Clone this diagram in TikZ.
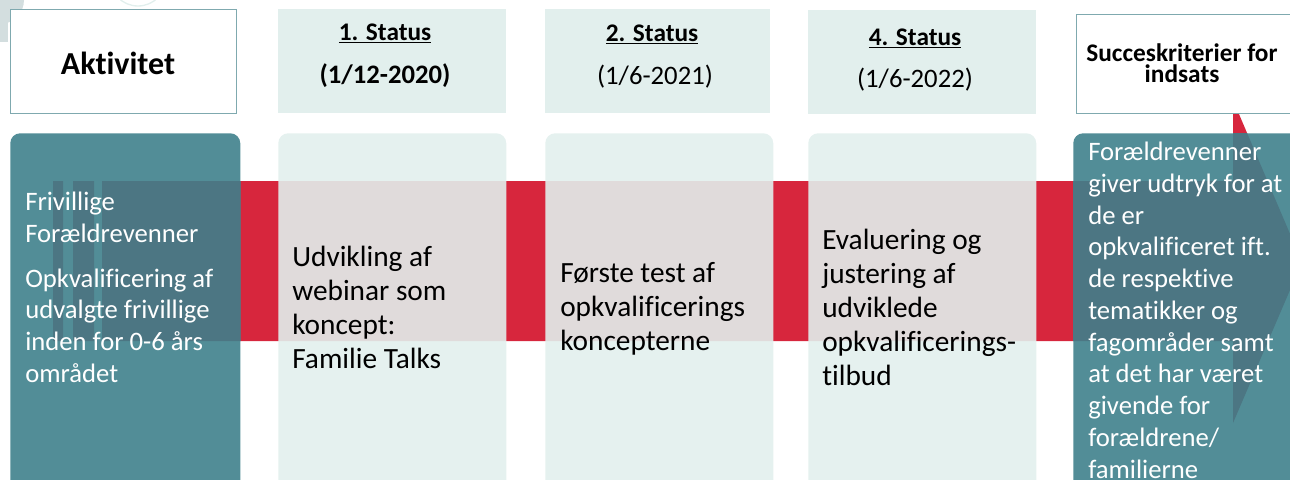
\documentclass[tikz,border=0pt]{standalone}
\usepackage{fontspec}
\setmainfont{Carlito}[Ligatures=NoCommon]
\usetikzlibrary{positioning}

\definecolor{headfill}{HTML}{E2EFED}
\definecolor{framecol}{HTML}{7FA9AF}
\definecolor{arrowred}{HTML}{D7263D}
\definecolor{tealbox}{HTML}{528D97}
\definecolor{tealdeep}{HTML}{4C7683}
\definecolor{blobgray}{HTML}{D3DEDF}

\tikzset{
  headbox/.style={fill=headfill, inner sep=0pt, anchor=north west, minimum height=78pt},
  framebox/.style={fill=white, draw=framecol, line width=0.8pt, inner sep=0pt, anchor=north west, minimum height=78pt},
  lanebox/.style={fill=headfill, fill opacity=0.9, rounded corners=7.5pt, inner sep=0pt, anchor=north west, minimum height=276pt},
  tealbox/.style={fill=tealbox, rounded corners=7.5pt, inner sep=0pt, anchor=north west, minimum height=276pt},
  headtext/.style={anchor=base, inner sep=0pt, align=center},
  lanetext/.style={anchor=north west, inner sep=0pt, align=left, font=\fontsize{22}{25.5}\selectfont},
  tealtext/.style={anchor=north west, inner sep=0pt, align=left, text=white, font=\fontsize{20}{23.8}\selectfont},
}

% arrow with striped tail (pixel units)
\def\arrowpath{(102,181) -- (1233,181) -- (1233,100) -- (1302,262) -- (1233,423) -- (1233,341) -- (102,341) -- cycle
  (53,181) rectangle (63,341) (73,181) rectangle (94,341)}

\begin{document}
\begin{tikzpicture}[x=0.75pt, y=-0.75pt]
  \useasboundingbox (0,0) rectangle (1290,479);
  \clip (0,0) rectangle (1290,479);

  % faint slide background
  \fill[blobgray] (0,0) circle (24);
  \fill[blobgray] (0,0) rectangle (8,42);
  \draw[headfill, line width=1pt] (138,-22) circle (28);

  % red timeline arrow
  \fill[arrowred] \arrowpath;

  % header row
  \node[framebox, minimum width=169.5pt] (aktBox) at (10,9) {};
  \node[headbox, minimum width=171pt] (st1Box) at (278,9) {};
  \node[headbox, minimum width=168.75pt] (st2Box) at (545,9) {};
  \node[headbox, minimum width=171pt] (st4Box) at (808,10) {};
  \node[framebox, minimum width=170pt, minimum height=74pt] (sucBox) at (1076,14) {};

  \node[headtext, font=\fontsize{24}{28}\selectfont\bfseries] (aktHead) at (118,74) {Aktivitet};
  \node[headtext, font=\fontsize{19}{23}\selectfont\bfseries] (st1Head) at (385,40) {\underline{1. Status}};
  \node[headtext, font=\fontsize{20}{24}\selectfont\bfseries] (st1Date) at (385,83) {(1/12-2020)};
  \node[headtext, font=\fontsize{19}{23}\selectfont\bfseries] (st2Head) at (652,41) {\underline{2. Status}};
  \node[headtext, font=\fontsize{20}{24}\selectfont] (st2Date) at (655,84) {(1/6-2021)};
  \node[headtext, font=\fontsize{19}{23}\selectfont\bfseries] (st4Head) at (915,45) {\underline{4. Status}};
  \node[headtext, font=\fontsize{20}{24}\selectfont] (st4Date) at (915,87) {(1/6-2022)};
  \node[anchor=north, inner sep=0pt, align=center, font=\fontsize{19}{16}\selectfont\bfseries] (sucHead) at (1182,43) {Succeskriterier for\\indsats};

  % lanes
  \node[lanebox, minimum width=171pt] (lane1) at (278,133) {};
  \node[lanebox, minimum width=171pt] (lane2) at (545,133) {};
  \node[lanebox, minimum width=171pt] (lane4) at (808,133) {};
  \node[tealbox, minimum width=172.5pt] (actLane) at (10,133) {};
  \node[tealbox, minimum width=180pt] (sucLane) at (1073,133) {};

  % arrow seen through the teal lanes
  \begin{scope}
    \clip[rounded corners=7.5pt] (actLane.north west) rectangle (actLane.south east)
                                 (sucLane.north west) rectangle (sucLane.south east);
    \fill[tealdeep] \arrowpath;
  \end{scope}

  % lane texts
  \node[tealtext] (actText) at (25,192) {Frivillige\\Forældrevenner\\[9.75pt]Opkvalificering af\\udvalgte frivillige\\inden for 0-6 års\\området};
  \node[lanetext] (lane1Text) at (292,246) {Udvikling af\\webinar som\\koncept:\\Familie Talks};
  \node[lanetext] (lane2Text) at (560,262) {Første test af\\opkvalificerings\\koncepterne};
  \node[lanetext] (lane4Text) at (822,229) {Evaluering og\\justering af\\udviklede\\opkvalificerings-\\tilbud};
  \node[tealtext] (sucText) at (1088,142) {Forældrevenner\\giver udtryk for at\\de er\\opkvalificeret ift.\\de respektive\\tematikker og\\fagområder samt\\at det har været\\givende for\\forældrene/\\familierne};
\end{tikzpicture}
\end{document}
